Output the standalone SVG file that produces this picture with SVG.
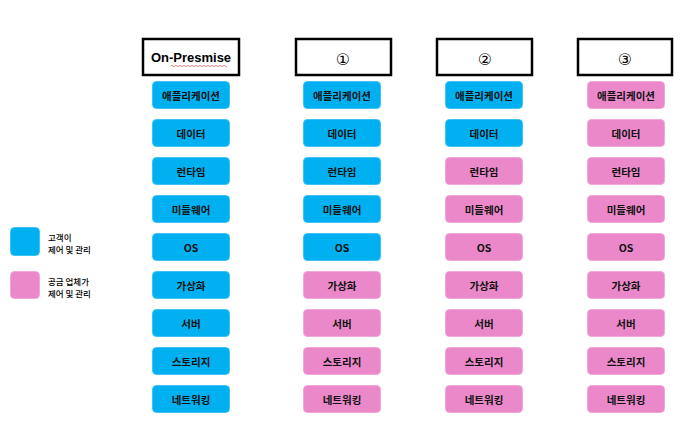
<svg xmlns="http://www.w3.org/2000/svg" width="680" height="440" viewBox="0 0 680 440">
<style>
.hd{fill:#fff;stroke:#000;stroke-width:2.5}
.b{fill:#00B0F0;stroke:#3CC3F3;stroke-width:1}
.p{fill:#EA88C9;stroke:#F0A8D8;stroke-width:1}
.t{font-family:"Noto Sans CJK KR","Liberation Sans",sans-serif;font-size:10.5px;font-weight:bold;fill:#111;text-anchor:middle;dominant-baseline:central}
.h{font-family:"Liberation Sans","DejaVu Sans",sans-serif;font-size:13px;font-weight:bold;fill:#000;text-anchor:middle;dominant-baseline:central}
.c{font-family:"DejaVu Sans",sans-serif;font-size:16px;fill:#000;text-anchor:middle;dominant-baseline:central}
.lg{font-family:"Noto Sans CJK KR","Liberation Sans",sans-serif;font-size:8.5px;font-weight:500;fill:#000}
</style>
<rect width="680" height="440" fill="#fff"/>
<g id="legend">
<rect x="10.5" y="227.5" width="29" height="28" rx="4" class="b"/>
<text class="lg" x="48" y="241">고객이</text>
<text class="lg" x="48" y="253">제어 및 관리</text>
<rect x="10.5" y="271.5" width="29" height="27" rx="4" class="p"/>
<text class="lg" x="48" y="285">공급 업체가</text>
<text class="lg" x="48" y="297">제어 및 관리</text>
</g>
<g id="col1">
<rect class="hd" x="143" y="39" width="96" height="36"/>
<text class="h" x="191" y="57">On-Presmise</text>
<path d="M171 66 q1 -1.5 2 0 t2 0 t2 0 t2 0 t2 0 t2 0 t2 0 t2 0 t2 0 t2 0 t2 0 t2 0 t2 0 t2 0 t2 0 t2 0 t2 0 t2 0 t2 0 t2 0 t2 0 t2 0 t2 0 t2 0 t2 0 t2 0 t2 0 t2 0" fill="none" stroke="#E05050" stroke-width="0.7"/>
<rect class="b" x="152.5" y="81.5" width="77" height="27" rx="4"/><text class="t" x="191" y="95">애플리케이션</text>
<rect class="b" x="152.5" y="119.5" width="77" height="27" rx="4"/><text class="t" x="191" y="133">데이터</text>
<rect class="b" x="152.5" y="157.5" width="77" height="27" rx="4"/><text class="t" x="191" y="171">런타임</text>
<rect class="b" x="152.5" y="195.5" width="77" height="27" rx="4"/><text class="t" x="191" y="209">미들웨어</text>
<rect class="b" x="152.5" y="233.5" width="77" height="27" rx="4"/><text class="t" x="191" y="247">OS</text>
<rect class="b" x="152.5" y="271.5" width="77" height="27" rx="4"/><text class="t" x="191" y="285">가상화</text>
<rect class="b" x="152.5" y="309.5" width="77" height="27" rx="4"/><text class="t" x="191" y="323">서버</text>
<rect class="b" x="152.5" y="347.5" width="77" height="27" rx="4"/><text class="t" x="191" y="361">스토리지</text>
<rect class="b" x="152.5" y="385.5" width="77" height="27" rx="4"/><text class="t" x="191" y="399">네트워킹</text>
</g>
<g id="col2">
<rect class="hd" x="296" y="39" width="95" height="36"/>
<text class="c" x="343" y="59">①</text>
<rect class="b" x="303.5" y="81.5" width="77" height="27" rx="4"/><text class="t" x="342" y="95">애플리케이션</text>
<rect class="b" x="303.5" y="119.5" width="77" height="27" rx="4"/><text class="t" x="342" y="133">데이터</text>
<rect class="b" x="303.5" y="157.5" width="77" height="27" rx="4"/><text class="t" x="342" y="171">런타임</text>
<rect class="b" x="303.5" y="195.5" width="77" height="27" rx="4"/><text class="t" x="342" y="209">미들웨어</text>
<rect class="b" x="303.5" y="233.5" width="77" height="27" rx="4"/><text class="t" x="342" y="247">OS</text>
<rect class="p" x="303.5" y="271.5" width="77" height="27" rx="4"/><text class="t" x="342" y="285">가상화</text>
<rect class="p" x="303.5" y="309.5" width="77" height="27" rx="4"/><text class="t" x="342" y="323">서버</text>
<rect class="p" x="303.5" y="347.5" width="77" height="27" rx="4"/><text class="t" x="342" y="361">스토리지</text>
<rect class="p" x="303.5" y="385.5" width="77" height="27" rx="4"/><text class="t" x="342" y="399">네트워킹</text>
</g>
<g id="col3">
<rect class="hd" x="437" y="39" width="95" height="36"/>
<text class="c" x="485" y="59">②</text>
<rect class="b" x="445.5" y="81.5" width="77" height="27" rx="4"/><text class="t" x="484" y="95">애플리케이션</text>
<rect class="b" x="445.5" y="119.5" width="77" height="27" rx="4"/><text class="t" x="484" y="133">데이터</text>
<rect class="p" x="445.5" y="157.5" width="77" height="27" rx="4"/><text class="t" x="484" y="171">런타임</text>
<rect class="p" x="445.5" y="195.5" width="77" height="27" rx="4"/><text class="t" x="484" y="209">미들웨어</text>
<rect class="p" x="445.5" y="233.5" width="77" height="27" rx="4"/><text class="t" x="484" y="247">OS</text>
<rect class="p" x="445.5" y="271.5" width="77" height="27" rx="4"/><text class="t" x="484" y="285">가상화</text>
<rect class="p" x="445.5" y="309.5" width="77" height="27" rx="4"/><text class="t" x="484" y="323">서버</text>
<rect class="p" x="445.5" y="347.5" width="77" height="27" rx="4"/><text class="t" x="484" y="361">스토리지</text>
<rect class="p" x="445.5" y="385.5" width="77" height="27" rx="4"/><text class="t" x="484" y="399">네트워킹</text>
</g>
<g id="col4">
<rect class="hd" x="578" y="39" width="94" height="36"/>
<text class="c" x="625" y="59">③</text>
<rect class="p" x="587.5" y="81.5" width="77" height="27" rx="4"/><text class="t" x="626" y="95">애플리케이션</text>
<rect class="p" x="587.5" y="119.5" width="77" height="27" rx="4"/><text class="t" x="626" y="133">데이터</text>
<rect class="p" x="587.5" y="157.5" width="77" height="27" rx="4"/><text class="t" x="626" y="171">런타임</text>
<rect class="p" x="587.5" y="195.5" width="77" height="27" rx="4"/><text class="t" x="626" y="209">미들웨어</text>
<rect class="p" x="587.5" y="233.5" width="77" height="27" rx="4"/><text class="t" x="626" y="247">OS</text>
<rect class="p" x="587.5" y="271.5" width="77" height="27" rx="4"/><text class="t" x="626" y="285">가상화</text>
<rect class="p" x="587.5" y="309.5" width="77" height="27" rx="4"/><text class="t" x="626" y="323">서버</text>
<rect class="p" x="587.5" y="347.5" width="77" height="27" rx="4"/><text class="t" x="626" y="361">스토리지</text>
<rect class="p" x="587.5" y="385.5" width="77" height="27" rx="4"/><text class="t" x="626" y="399">네트워킹</text>
</g>
<g id="connectors"/>
</svg>
